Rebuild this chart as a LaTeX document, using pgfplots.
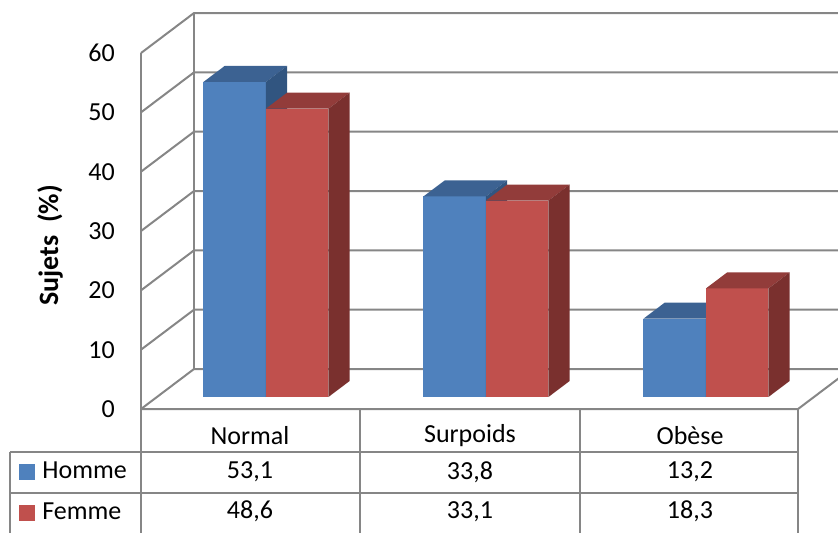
\documentclass[border=0pt]{standalone}
\usepackage{pgfplots}
\pgfplotsset{compat=1.18}
\usepackage{fontspec}
\setmainfont{Carlito}
\definecolor{gridc}{RGB}{134,134,134}
\definecolor{blfront}{RGB}{79,129,189}
\definecolor{bltop}{RGB}{60,98,146}
\definecolor{blside}{RGB}{49,85,128}
\definecolor{rdfront}{RGB}{192,80,77}
\definecolor{rdtop}{RGB}{146,60,58}
\definecolor{rdside}{RGB}{122,48,46}
% one 3D bar: x0, x1, value, colour prefix
\newcommand\mybar[4]{%
  \addplot3[fill=#4front, draw=none] coordinates {(#1,0.3,0) (#2,0.3,0) (#2,0.3,#3) (#1,0.3,#3)};
  \addplot3[fill=#4top, draw=none] coordinates {(#1,0.3,#3) (#2,0.3,#3) (#2,0.7,#3) (#1,0.7,#3)};
  \addplot3[fill=#4side, draw=none] coordinates {(#2,0.3,0) (#2,0.7,0) (#2,0.7,#3) (#2,0.3,#3)};
}
\begin{document}
\begin{tikzpicture}
\begin{axis}[
  x={(1bp,0bp)}, y={(53bp,40bp)}, z={(0bp,5.933bp)},
  xmin=141, xmax=798, ymin=0, ymax=1, zmin=0, zmax=60,
  hide axis, clip=false,
  legend cell align=left,
  legend style={draw=none, fill=none, inner sep=0pt, outer sep=0pt,
    at={(axis cs:19,0,-14.07)}, anchor=west,
    row sep=19bp, column sep=8bp,
    nodes={inner sep=0pt, text height=17bp, text depth=5bp},
    font=\fontsize{26bp}{30bp}\selectfont},
]
\addlegendimage{legend image code/.code={\fill[blfront] (0bp,-7.5bp) rectangle (15bp,7.5bp);}}
\addlegendentry{Homme}
\addlegendimage{legend image code/.code={\fill[rdfront] (0bp,-7.5bp) rectangle (15bp,7.5bp);}}
\addlegendentry{Femme}
% walls and gridlines
\addplot3[gridc, line width=2bp] coordinates {(141,1,0) (141,1,60)};
\pgfplotsinvokeforeach{0,10,...,60}{%
  \addplot3[gridc, line width=2bp] coordinates {(141,0,#1) (141,1,#1) (798,1,#1)};
}
\addplot3[gridc, line width=2bp] coordinates {(141,0,0) (798,0,0) (798,1,0)};
% bars: Homme / Femme
\mybar{187.5}{250}{53.1}{bl}
\mybar{250}{312.5}{48.6}{rd}
\mybar{407.5}{470}{33.8}{bl}
\mybar{470}{532.5}{33.1}{rd}
\mybar{627.5}{690}{13.2}{bl}
\mybar{690}{752.5}{18.3}{rd}
% table lines
\draw[gridc, line width=2bp] (axis cs:141,0,60) -- (axis cs:141,0,-22);
\draw[gridc, line width=2bp] (axis cs:10,0,-7.25) -- (axis cs:798,0,-7.25);
\draw[gridc, line width=2bp] (axis cs:10,0,-14.16) -- (axis cs:798,0,-14.16);
\draw[gridc, line width=2bp] (axis cs:10,0,-7.25) -- (axis cs:10,0,-22);
\draw[gridc, line width=2bp] (axis cs:360,0,0) -- (axis cs:360,0,-22);
\draw[gridc, line width=2bp] (axis cs:580,0,0) -- (axis cs:580,0,-22);
\draw[gridc, line width=2bp] (axis cs:798,0,0) -- (axis cs:798,0,-22);
% tick labels
\pgfplotsinvokeforeach{0,10,...,60}{%
  \node[anchor=east, inner sep=0pt, font=\fontsize{26bp}{30bp}\selectfont] at (axis cs:115,0,#1) {#1};
}
\node[rotate=90, font=\fontsize{28bp}{32bp}\selectfont\bfseries] at (axis cs:50,0,27.6) {Sujets\ \ (\%)};
% table text
\tikzset{tt/.style={font=\fontsize{26bp}{30bp}\selectfont, inner sep=0pt}}
\node[tt] at (axis cs:250,0,-4.5) {Normal};
\node[tt] at (axis cs:470,0,-4.5) {Surpoids};
\node[tt] at (axis cs:690,0,-4.5) {Obèse};
\node[tt] at (axis cs:250,0,-10.6) {53,1};
\node[tt] at (axis cs:470,0,-10.6) {33,8};
\node[tt] at (axis cs:690,0,-10.6) {13,2};
\node[tt] at (axis cs:250,0,-17.3) {48,6};
\node[tt] at (axis cs:470,0,-17.3) {33,1};
\node[tt] at (axis cs:690,0,-17.3) {18,3};
\coordinate (BL) at (axis cs:0,0,-20.73);
\coordinate (TR) at (axis cs:838,0,68.94);
\end{axis}
\pgfresetboundingbox
\useasboundingbox (BL) rectangle (TR);
\end{tikzpicture}
\end{document}
